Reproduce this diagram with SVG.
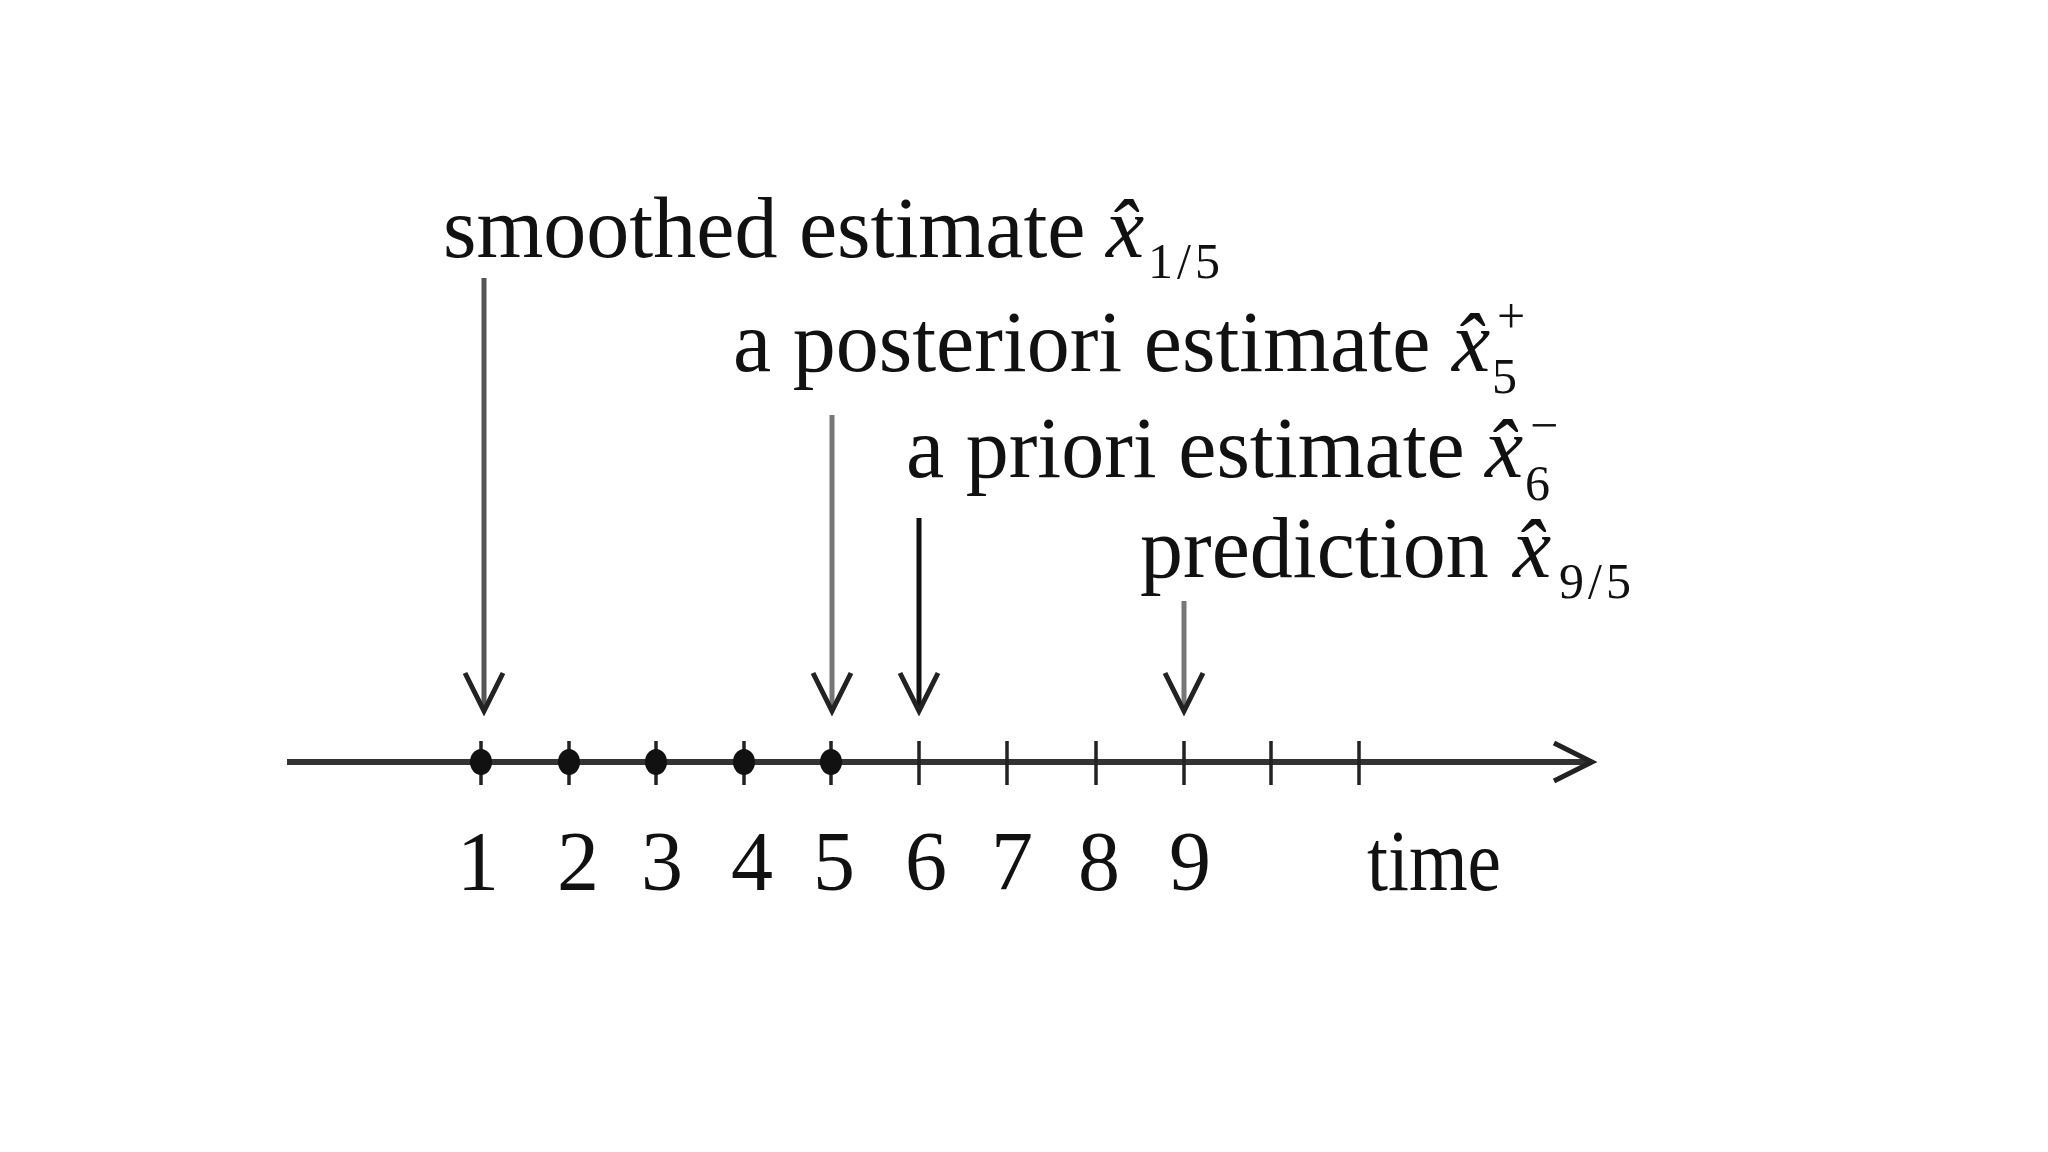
<svg xmlns="http://www.w3.org/2000/svg" width="2048" height="1152" viewBox="0 0 2048 1152">
  <style>
    .lbl { font-family: "Liberation Serif", "Times New Roman", serif; font-size: 86px; fill: #111; }
    .var { font-style: italic; }
    .idx { font-size: 50px; font-style: normal; }
    .num { font-family: "Liberation Serif", "Times New Roman", serif; font-size: 84px; fill: #111; text-anchor: middle; }
    .shaft { fill: none; stroke-width: 5; }
    .tick { stroke: #222; stroke-width: 3.5; }
    .dot { fill: #111; }
  </style>
  <defs>
    <marker id="vee" markerUnits="userSpaceOnUse" viewBox="-45 -25 50 50" refX="0" refY="0" markerWidth="50" markerHeight="50" orient="auto">
      <path d="M -38 -19 L 0 0 L -38 19" fill="none" stroke="#222" stroke-width="5" stroke-linejoin="miter"/>
    </marker>
  </defs>
  <rect width="2048" height="1152" fill="#fff"/>

  <g id="label-smoothed">
    <text class="lbl" x="443" y="257">smoothed estimate<tspan class="var" x="1106">x̂</tspan><tspan class="idx" x="1148" y="278" letter-spacing="4">1/5</tspan></text>
  </g>

  <g id="label-posteriori">
    <text class="lbl" x="733" y="371">a posteriori estimate<tspan class="var" x="1452">x̂</tspan><tspan class="idx" x="1497" y="333">+</tspan><tspan class="idx" x="1492" y="393">5</tspan></text>
  </g>

  <g id="label-priori">
    <text class="lbl" x="906" y="477">a priori estimate<tspan class="var" x="1485">x̂</tspan><tspan class="idx" x="1530" y="442">−</tspan><tspan class="idx" x="1525" y="500">6</tspan></text>
  </g>

  <g id="label-prediction">
    <text class="lbl" x="1140" y="577">prediction<tspan class="var" x="1513">x̂</tspan><tspan class="idx" x="1559" y="598" letter-spacing="4">9/5</tspan></text>
  </g>

  <g id="timeline">
    <line x1="287" y1="762" x2="1592" y2="762" stroke="#333" stroke-width="6" marker-end="url(#vee)"/>
    <g id="ticks">
      <line class="tick" x1="481" y1="741" x2="481" y2="785"/>
      <line class="tick" x1="569" y1="741" x2="569" y2="785"/>
      <line class="tick" x1="656" y1="741" x2="656" y2="785"/>
      <line class="tick" x1="744" y1="741" x2="744" y2="785"/>
      <line class="tick" x1="831" y1="741" x2="831" y2="785"/>
      <line class="tick" x1="919" y1="741" x2="919" y2="785"/>
      <line class="tick" x1="1007" y1="741" x2="1007" y2="785"/>
      <line class="tick" x1="1096" y1="741" x2="1096" y2="785"/>
      <line class="tick" x1="1184" y1="741" x2="1184" y2="785"/>
      <line class="tick" x1="1271" y1="741" x2="1271" y2="785"/>
      <line class="tick" x1="1359" y1="741" x2="1359" y2="785"/>
    </g>
    <g id="dots">
      <ellipse class="dot" cx="481" cy="762" rx="11" ry="13"/>
      <ellipse class="dot" cx="569" cy="762" rx="11" ry="13"/>
      <ellipse class="dot" cx="656" cy="762" rx="11" ry="13"/>
      <ellipse class="dot" cx="744" cy="762" rx="11" ry="13"/>
      <ellipse class="dot" cx="831" cy="762" rx="11" ry="13"/>
    </g>
    <g id="numbers">
      <text class="num" x="478" y="890">1</text>
      <text class="num" x="578" y="890">2</text>
      <text class="num" x="662" y="890">3</text>
      <text class="num" x="752" y="890">4</text>
      <text class="num" x="834" y="890">5</text>
      <text class="num" x="926" y="890">6</text>
      <text class="num" x="1012" y="890">7</text>
      <text class="num" x="1099" y="890">8</text>
      <text class="num" x="1190" y="890">9</text>
      <text class="lbl" x="1367" y="890" font-size="84" textLength="134" lengthAdjust="spacingAndGlyphs">time</text>
    </g>
  </g>

  <g id="connectors">
    <line class="shaft" x1="484" y1="278" x2="484" y2="711" stroke="#555" marker-end="url(#vee)"/>
    <line class="shaft" x1="832" y1="415" x2="832" y2="711" stroke="#777" stroke-width="6" marker-end="url(#vee)"/>
    <line class="shaft" x1="919" y1="518" x2="919" y2="711" stroke="#111" marker-end="url(#vee)"/>
    <line class="shaft" x1="1184" y1="601" x2="1184" y2="711" stroke="#777" stroke-width="6" marker-end="url(#vee)"/>
  </g>
</svg>
